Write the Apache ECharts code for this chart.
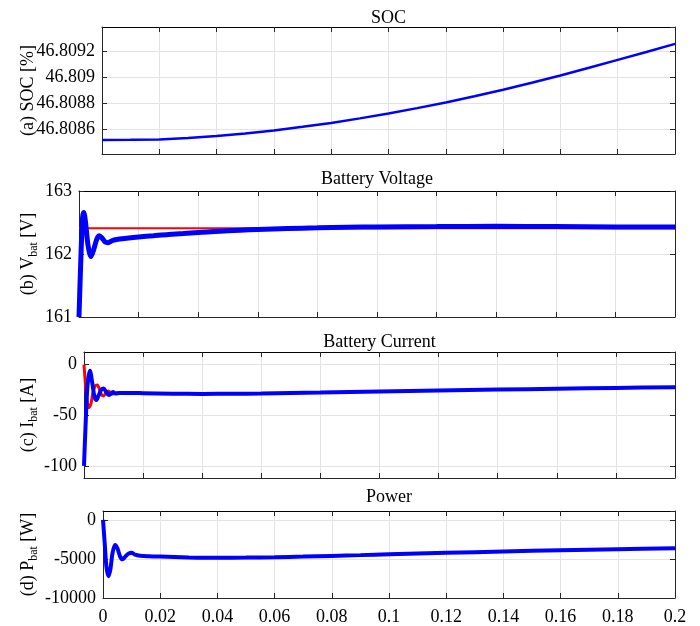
<!DOCTYPE html>
<html>
<head>
<meta charset="utf-8">
<script src="https://cdn.jsdelivr.net/npm/echarts@6/dist/echarts.min.js"></script>
<style>
html,body{margin:0;padding:0;background:#fff;}
#chart{width:700px;height:626px;}
</style>
</head>
<body>
<div id="chart"></div>
<script>
// ---- x tick labels / range ----
const xTicks = [0, 0.02, 0.04, 0.06, 0.08, 0.1, 0.12, 0.14, 0.16, 0.18, 0.2];

// ---- (a) SOC ----
const socT = [0, 0.01, 0.02, 0.03, 0.04, 0.05, 0.06, 0.07, 0.08, 0.09, 0.1, 0.11, 0.12, 0.13, 0.14, 0.15, 0.16, 0.17, 0.18, 0.19, 0.2];
const socV = [46.808518, 46.808519, 46.808522, 46.808533, 46.808548, 46.808569, 46.808592, 46.80862, 46.80865, 46.808685, 46.808722, 46.808764, 46.808808, 46.808856, 46.808906, 46.80896, 46.809016, 46.809075, 46.809136, 46.809197, 46.80926];

// ---- (b) Battery voltage ----
const vRefT = [0, 0.2];
const vRef = [162.41, 162.41];
const vBatT = [0, 0.0006, 0.0012, 0.0016, 0.0022, 0.003, 0.004, 0.005, 0.006, 0.0068, 0.0078, 0.0088, 0.0098, 0.011, 0.0126, 0.016, 0.02, 0.025, 0.03, 0.035, 0.04, 0.05, 0.06, 0.07, 0.08, 0.09, 0.1, 0.12, 0.14, 0.16, 0.18, 0.2];
const vBat = [161.0, 161.9, 162.58, 162.66, 162.5, 162.15, 161.96, 162.08, 162.24, 162.29, 162.25, 162.19, 162.18, 162.21, 162.23, 162.25, 162.27, 162.29, 162.31, 162.325, 162.34, 162.37, 162.39, 162.405, 162.415, 162.425, 162.43, 162.435, 162.44, 162.435, 162.43, 162.43];

// ---- (c) Battery current ----
const iRefT = [0, 0.0005, 0.001, 0.0016, 0.0024, 0.003, 0.0038, 0.0045, 0.0052, 0.006, 0.0066, 0.0074, 0.0082, 0.009, 0.0098, 0.0106, 0.012];
const iRef = [0, -20, -35, -42.5, -38, -28, -21, -20, -24, -30, -31, -28, -26, -27.5, -29, -28, -28];
const iBatT = [0, 0.0006, 0.0012, 0.002, 0.0028, 0.0035, 0.0042, 0.005, 0.0058, 0.0066, 0.0075, 0.0083, 0.009, 0.0098, 0.0106, 0.012, 0.016, 0.02, 0.03, 0.04, 0.05, 0.06, 0.08, 0.1, 0.12, 0.14, 0.16, 0.18, 0.2];
const iBat = [-100, -55, -20, -6, -18, -31, -35, -30, -25, -23.5, -27, -30, -29, -27, -28.5, -28, -28, -28.2, -28.7, -28.9, -28.8, -28.5, -27.6, -26.6, -25.6, -24.6, -23.8, -23, -22.3];

// ---- (d) Power ----
const pBatT = [0, 0.0006, 0.0012, 0.0019, 0.0026, 0.0033, 0.0042, 0.005, 0.006, 0.0068, 0.0078, 0.0088, 0.01, 0.0112, 0.013, 0.016, 0.02, 0.03, 0.04, 0.05, 0.06, 0.07, 0.08, 0.09, 0.1, 0.12, 0.14, 0.16, 0.18, 0.2];
const pBat = [0, -3000, -6000, -7200, -6300, -4300, -3200, -3600, -4700, -5050, -4700, -4350, -4200, -4450, -4580, -4650, -4700, -4800, -4850, -4830, -4780, -4700, -4610, -4510, -4400, -4220, -4050, -3880, -3750, -3630];

// ---- titles ----
const titles = ['SOC', 'Battery Voltage', 'Battery Current', 'Power'];

const FONT = '"Liberation Serif", "Times New Roman", serif';
const pair = (t, v) => t.map((x, i) => [x, v[i]]);

const grids = [
  {left: 102, right: 25, top: 27, height: 127},
  {left: 79, right: 25, top: 191, height: 126},
  {left: 84, right: 25, top: 352, height: 126},
  {left: 103, right: 25, top: 511, height: 88}
];
const yRanges = [
  {min: 46.80841, max: 46.80939, splitNumber: 5},
  {min: 161, max: 163, interval: 1},
  {min: -112, max: 12.5, splitNumber: 3},
  {min: -10000, max: 1140, splitNumber: 2}
];
const names = [
  '{m|(a) SOC [%]}',
  '{m|(b) V}{s|bat}{m| [V]}',
  '{m|(c) I}{s|bat}{m| [A]}',
  '{m|(d) P}{s|bat}{m| [W]}'
];
const nameGaps = [62, 39, 44, 63];

const rich = {
  m: {fontFamily: FONT, fontSize: 18, color: '#000', lineHeight: 24, verticalAlign: 'middle'},
  s: {fontFamily: FONT, fontSize: 12, color: '#000', lineHeight: 12, verticalAlign: 'bottom'}
};

const AX = '#262626';
const GRIDC = '#e3e3e3';
const xAxes = [], yAxes = [], titleArr = [];
grids.forEach((g, i) => {
  const base = {type: 'value', gridIndex: i, min: 0, max: 0.2, interval: 0.02};
  xAxes.push(Object.assign({}, base, {
    position: 'bottom',
    axisLine: {show: true, onZero: false, lineStyle: {color: AX, width: 1}},
    axisTick: {show: true, inside: true, length: 5, lineStyle: {color: AX}},
    axisLabel: {show: i === 3, color: '#000', fontFamily: FONT, fontSize: 18, margin: 10,
      formatter: v => String(xTicks[Math.round(v / 0.02)])},
    splitLine: {show: true, lineStyle: {color: GRIDC, width: 1}}
  }));
  xAxes.push(Object.assign({}, base, {
    position: 'top',
    axisLine: {show: true, onZero: false, lineStyle: {color: '#000', width: 1}},
    axisTick: {show: true, inside: true, length: 5, lineStyle: {color: AX}},
    axisLabel: {show: false},
    splitLine: {show: false}
  }));
  const ybase = Object.assign({type: 'value', gridIndex: i, scale: true}, yRanges[i]);
  yAxes.push(Object.assign({}, ybase, {
    position: 'left',
    name: names[i], nameLocation: 'middle', nameRotate: 90, nameGap: nameGaps[i],
    nameMoveOverlap: false,
    nameTextStyle: {rich: rich},
    axisLine: {show: true, onZero: false, lineStyle: {color: AX, width: 1}},
    axisTick: {show: true, inside: true, length: 5, lineStyle: {color: AX}},
    axisLabel: {show: true, color: '#000', fontFamily: FONT, fontSize: 18, margin: 7,
      showMinLabel: i === 1 || i === 3, showMaxLabel: i === 1,
      formatter: v => String(+(+v).toFixed(6))},
    splitLine: {show: true, lineStyle: {color: GRIDC, width: 1}}
  }));
  yAxes.push(Object.assign({}, ybase, {
    position: 'right',
    axisLine: {show: true, onZero: false, lineStyle: {color: AX, width: 1}},
    axisTick: {show: true, inside: true, length: 5, lineStyle: {color: AX}},
    axisLabel: {show: false},
    splitLine: {show: false}
  }));
  titleArr.push({
    text: titles[i], left: g.left + (700 - g.left - g.right) / 2, textAlign: 'center',
    top: [9, 170, 333, 488][i], padding: 0,
    textStyle: {fontFamily: FONT, fontSize: 18, fontWeight: 'normal', color: '#000'}
  });
});

const line = (xi, yi, data, color, w, z, sm) => ({
  type: 'line', xAxisIndex: xi * 2, yAxisIndex: yi * 2, data: data,
  showSymbol: false, symbol: 'none', smooth: sm, z: z,
  lineStyle: {color: color, width: w}, emphasis: {disabled: true}
});

const option = {
  animation: false,
  backgroundColor: '#fff',
  title: titleArr,
  grid: grids,
  xAxis: xAxes,
  yAxis: yAxes,
  series: [
    line(0, 0, pair(socT, socV), '#0000ff', 2.5, 3, false),
    line(1, 1, pair(vRefT, vRef), '#ff0000', 2, 2, false),
    line(1, 1, pair(vBatT, vBat), '#0000ff', 5, 3, 0.3),
    line(2, 2, pair(iRefT, iRef), '#ff0000', 3, 2, 0.3),
    line(2, 2, pair(iBatT, iBat), '#0000ff', 4, 3, 0.3),
    line(3, 3, pair(pBatT, pBat), '#0000ff', 4, 3, 0.3)
  ]
};
const chart = echarts.init(document.getElementById('chart'), null, {renderer: 'canvas'});
chart.setOption(option);
</script>
</body>
</html>
